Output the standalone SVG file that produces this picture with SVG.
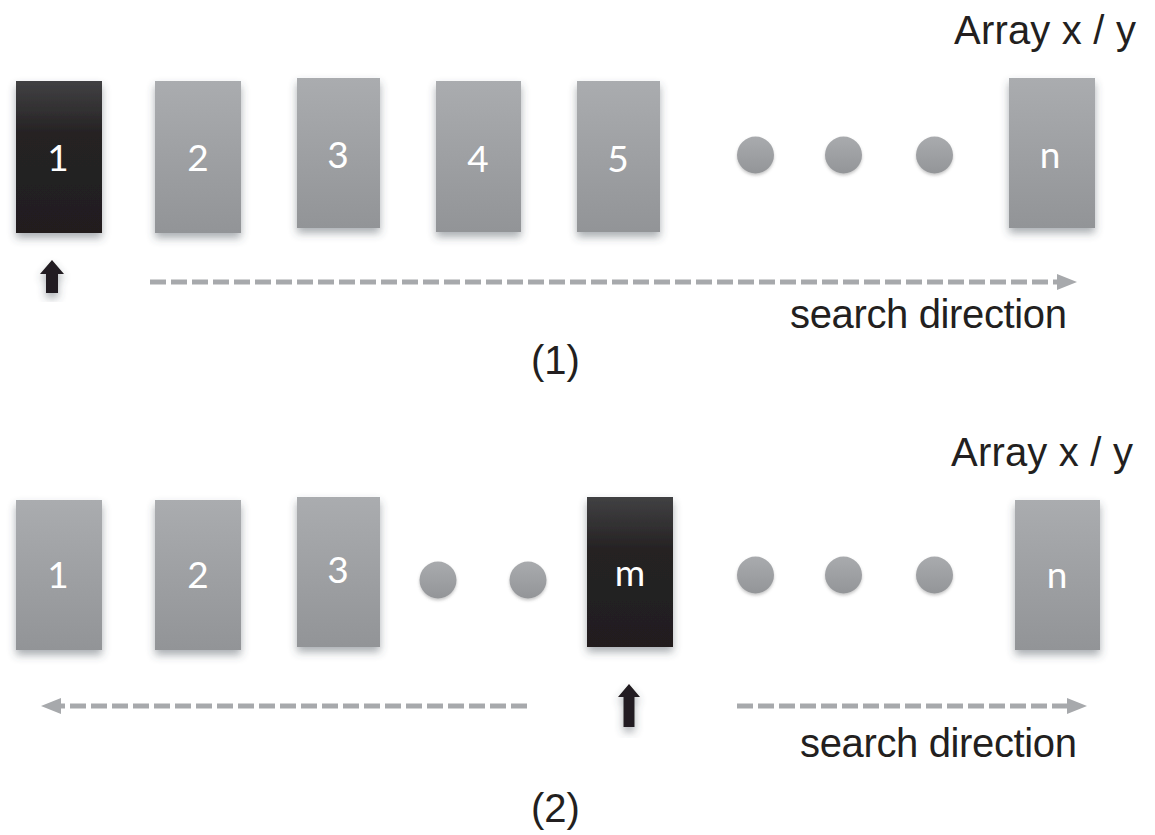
<svg xmlns="http://www.w3.org/2000/svg" width="1155" height="835" viewBox="0 0 1155 835">
<defs>
<linearGradient id="gGray" x1="0" y1="0" x2="0" y2="1">
<stop offset="0" stop-color="#aaacaf"/><stop offset="1" stop-color="#929497"/>
</linearGradient>
<linearGradient id="gDark" x1="0" y1="0" x2="0" y2="1">
<stop offset="0" stop-color="#414143"/><stop offset="0.35" stop-color="#252223"/><stop offset="1" stop-color="#221e1f"/>
</linearGradient>
<linearGradient id="gDot" x1="0" y1="0" x2="0" y2="1">
<stop offset="0" stop-color="#a9abae"/><stop offset="1" stop-color="#939598"/>
</linearGradient>
<filter id="sh" x="-30%" y="-20%" width="160%" height="145%">
<feDropShadow dx="0" dy="5" stdDeviation="4" flood-color="#404a55" flood-opacity="0.45"/>
</filter>
<filter id="shs" x="-40%" y="-40%" width="180%" height="180%">
<feDropShadow dx="0" dy="2" stdDeviation="1.5" flood-color="#606060" flood-opacity="0.35"/>
</filter>
<marker id="ah" viewBox="0 0 20 16" refX="0" refY="8" markerWidth="20" markerHeight="16" markerUnits="userSpaceOnUse" orient="auto">
<path d="M0,0 L20,8 L0,16 Z" fill="#a7a9ac"/>
</marker>
</defs>
<style>
.box{fill:url(#gGray);filter:url(#sh)}
.dark{fill:url(#gDark);filter:url(#sh)}
.dot{fill:url(#gDot);filter:url(#shs)}
.num{font-family:Lato,"Open Sans",sans-serif;font-size:37px;fill:#ffffff;text-anchor:middle}
.lbl{font-family:"Liberation Sans",Arial,sans-serif;font-size:40px;fill:#231f20}
.dash{stroke:#a7a9ac;stroke-width:5;stroke-dasharray:16 5;fill:none}
.up{fill:#231f20;filter:url(#sh)}
</style>

<!-- Panel 1 -->
<text class="lbl" x="954" y="44" textLength="182">Array x / y</text>
<g id="t1"><rect class="dark" x="16" y="81" width="86" height="152"/><text class="num" x="58" y="171">1</text></g>
<g id="t2"><rect class="box" x="155" y="81" width="86" height="152"/><text class="num" x="198" y="171">2</text></g>
<g id="t3"><rect class="box" x="297" y="78" width="83" height="150"/><text class="num" x="338" y="168">3</text></g>
<g id="t4"><rect class="box" x="436" y="81" width="85" height="151"/><text class="num" x="478" y="172">4</text></g>
<g id="t5"><rect class="box" x="577" y="81" width="83" height="151"/><text class="num" x="618" y="172">5</text></g>
<g id="td1"><circle class="dot" cx="755.5" cy="155" r="18.5"/></g>
<g id="td2"><circle class="dot" cx="843.5" cy="155" r="18.5"/></g>
<g id="td3"><circle class="dot" cx="934.5" cy="155" r="18.5"/></g>
<g id="tn"><rect class="box" x="1009" y="78" width="86" height="150"/><text class="num" x="1050" y="168">n</text></g>
<g id="tp"><path class="up" d="M52,260 L64,274 L58,274 L58,293 L46,293 L46,274 L40,274 Z"/></g>
<text class="lbl" x="790" y="328" textLength="277">search direction</text>
<text class="lbl" x="531" y="374">(1)</text>

<!-- Panel 2 -->
<text class="lbl" x="951" y="466" textLength="182">Array x / y</text>
<g id="b1"><rect class="box" x="16" y="500" width="86" height="150"/><text class="num" x="58" y="588">1</text></g>
<g id="b2"><rect class="box" x="155" y="500" width="86" height="150"/><text class="num" x="198" y="588">2</text></g>
<g id="b3"><rect class="box" x="297" y="497" width="83" height="150"/><text class="num" x="338" y="583">3</text></g>
<g id="bd1"><circle class="dot" cx="438" cy="580" r="18.5"/></g>
<g id="bd2"><circle class="dot" cx="528" cy="580" r="18.5"/></g>
<g id="bm"><rect class="dark" x="587" y="497" width="86" height="150"/><text class="num" x="630" y="586">m</text></g>
<g id="bd3"><circle class="dot" cx="755.5" cy="575" r="18.5"/></g>
<g id="bd4"><circle class="dot" cx="843.5" cy="575" r="18.5"/></g>
<g id="bd5"><circle class="dot" cx="934.5" cy="575" r="18.5"/></g>
<g id="bn"><rect class="box" x="1015" y="500" width="85" height="150"/><text class="num" x="1057" y="588">n</text></g>
<g id="bp"><path class="up" d="M629,684 L640,697 L634.5,697 L634.5,727 L623.5,727 L623.5,697 L618,697 Z"/></g>
<text class="lbl" x="800" y="757" textLength="277">search direction</text>
<text class="lbl" x="531" y="822">(2)</text>

<g id="connectors">
<line class="dash" x1="150" y1="282" x2="1057" y2="282" marker-end="url(#ah)"/>
<line class="dash" x1="527" y1="706" x2="61" y2="706" marker-end="url(#ah)"/>
<line class="dash" x1="737" y1="706" x2="1067" y2="706" marker-end="url(#ah)"/>
</g>
</svg>
